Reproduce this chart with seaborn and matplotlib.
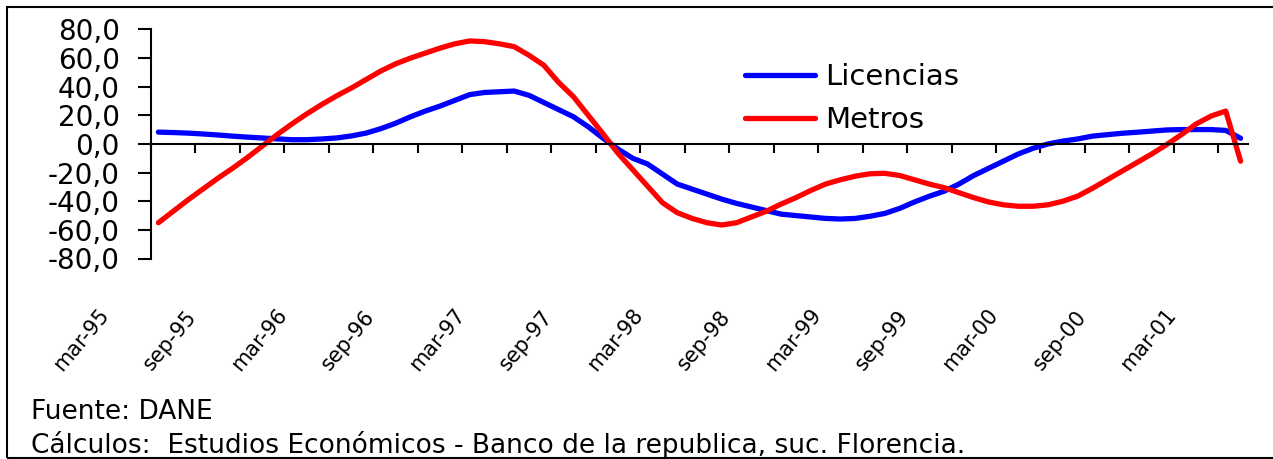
import numpy as np
import pandas as pd
import matplotlib
matplotlib.use('Agg')
import matplotlib.pyplot as plt
import matplotlib.transforms as mtransforms
from matplotlib.patches import Rectangle
import seaborn as sns

# licencias vs metros, variacion anual (%) - mar95 a abr01, mensual
licencias = [8.3, 8.0, 7.6, 7.0, 6.3, 5.5, 4.8, 4.2, 3.6, 3.0,
             3.0, 3.5, 4.2, 5.6, 7.6, 10.7, 14.5, 19.0, 23.0, 26.5,
             30.5, 34.5, 36.0, 36.5, 37.0, 34.0, 29.0, 24.0, 19.0, 12.0,
             4.0, -3.5, -10.0, -14.0, -21.0, -28.0, -31.5, -35.0, -38.5, -41.5,
             -44.0, -46.5, -49.0, -50.0, -51.0, -52.0, -52.4, -52.0, -50.5, -48.5,
             -45.0, -40.5, -36.5, -33.0, -28.0, -22.0, -17.0, -12.0, -7.0, -3.0,
             0.0, 2.0, 3.5, 5.5, 6.5, 7.5, 8.2, 9.0, 9.8, 10.1,
             10.1, 10.1, 9.5, 4.0]
metros = [-55.0, -47.0, -39.0, -31.5, -24.0, -17.0, -9.5, -1.5, 6.5, 14.0,
          21.0, 27.5, 33.5, 39.0, 45.0, 51.0, 56.0, 60.0, 63.5, 67.0,
          70.0, 72.0, 71.5, 70.0, 68.0, 62.0, 55.0, 43.0, 33.0, 20.0,
          7.0, -6.5, -18.0, -29.5, -41.0, -48.0, -52.0, -55.0, -56.6, -55.0,
          -51.0, -47.0, -42.0, -37.5, -32.5, -28.0, -25.0, -22.5, -20.8, -20.5,
          -22.0, -25.0, -28.0, -30.5, -34.0, -37.5, -40.5, -42.5, -43.5, -43.5,
          -42.5, -40.0, -36.5, -31.0, -25.0, -19.0, -13.0, -7.0, -0.5, 6.5,
          14.0, 19.5, 23.0, -12.0]
etiquetas = ['mar-95', 'sep-95', 'mar-96', 'sep-96', 'mar-97', 'sep-97', 'mar-98',
             'sep-98', 'mar-99', 'sep-99', 'mar-00', 'sep-00', 'mar-01']
yticks = [-80, -60, -40, -20, 0, 20, 40, 60, 80]

df = pd.DataFrame({'mes': np.arange(len(licencias)), 'Licencias': licencias, 'Metros': metros})

sns.set_style('white')
plt.rcParams['font.family'] = ['DejaVu Sans']
plt.rcParams['text.color'] = 'black'

fig = plt.figure(figsize=(12.73, 4.59), dpi=100)
ax = fig.add_axes([151 / 1273, 1 - 258.5 / 459, 1097 / 1273, 229 / 459])

sns.lineplot(data=df, x='mes', y='Licencias', color='#0000FF', lw=3.8, label='Licencias', ax=ax)
sns.lineplot(data=df, x='mes', y='Metros', color='#FF0000', lw=3.8, label='Metros', ax=ax)

ax.set_xlim(-0.5, len(licencias) - 0.5)
ax.set_ylim(-80, 80)
ax.set_xlabel('')
ax.set_ylabel('')

for s in ['top', 'right']:
    ax.spines[s].set_visible(False)
ax.spines['bottom'].set_position(('data', 0))
for s in ['bottom', 'left']:
    ax.spines[s].set_linewidth(1.5)
    ax.spines[s].set_color('black')

ax.set_yticks(yticks)
ax.set_yticklabels([f'{v:.1f}'.replace('.', ',') for v in yticks])
ax.tick_params(axis='y', direction='out', length=9.5, width=1.5, pad=13, labelsize=20,
               left=True, colors='black')
ax.set_xticks(np.arange(-0.5, len(licencias) - 1, 3))
ax.tick_params(axis='x', direction='out', length=6.5, width=1.5, bottom=True,
               labelbottom=False, colors='black')

# etiquetas del eje x (cada 6 meses), giradas como en Excel
off = mtransforms.ScaledTranslation(-0.77, 0, fig.dpi_scale_trans)
trans = mtransforms.blended_transform_factory(ax.transData, ax.transAxes) + off
for i, lab in enumerate(etiquetas):
    ax.text(i * 6, -0.356, lab, transform=trans, rotation=50, rotation_mode='anchor',
            ha='center', va='center', fontsize=15, color='black')

leg = ax.legend(loc='upper left', bbox_to_anchor=(0.5415, 0.853), frameon=False, fontsize=21,
                borderpad=0, borderaxespad=0, handlelength=2.4, handletextpad=0.34,
                labelspacing=0.5)
for t in leg.get_texts():
    t.set_color('black')

fig.text(31 / 1273, 1 - 412 / 459, 'Fuente: DANE', fontsize=19, va='center', color='black')
fig.text(31 / 1273, 1 - 445 / 459,
         'Cálculos:  Estudios Económicos - Banco de la republica, suc. Florencia.',
         fontsize=19, va='center', color='black')

fig.patches.append(Rectangle((7 / 1273, 1 / 459), 1.0, 451 / 459, transform=fig.transFigure,
                             fill=False, edgecolor='black', lw=1.5))

fig.savefig('out.png', dpi=100)
